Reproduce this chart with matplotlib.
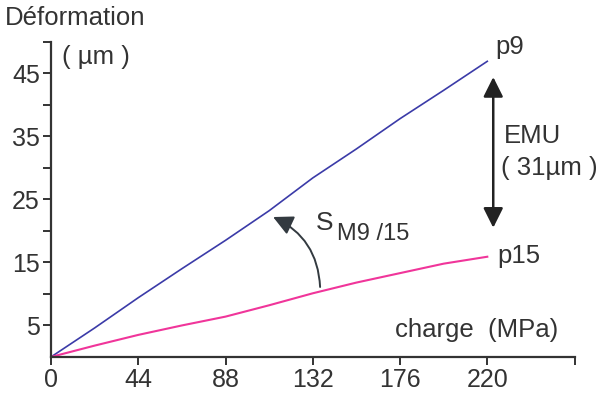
"""Deformation vs load for p9 / p15 with EMU annotation."""

import matplotlib
matplotlib.use("Agg")
import matplotlib.pyplot as plt
from matplotlib.patches import FancyArrowPatch

plt.rcParams["font.family"] = ["Liberation Sans", "DejaVu Sans"]

TEXT = "#333333"
FS = 18.5

# load (MPa) and deformation (um)
charge = [0, 22, 44, 66, 88, 110, 132, 154, 176, 198, 220]
p9 = [0, 4.6, 9.4, 14.0, 18.5, 23.2, 28.4, 33.0, 37.8, 42.3, 46.9]
p15 = [0, 1.8, 3.5, 5.0, 6.4, 8.2, 10.1, 11.8, 13.3, 14.8, 15.9]

x_major = [0, 44, 88, 132, 176, 220]
x_extra = [264]
y_major = [5, 15, 25, 35, 45]
y_minor = [10, 20, 30, 40, 50]

fig = plt.figure(figsize=(5.97, 3.94), dpi=100)
ax = fig.add_axes([0.0854, 0.094, 0.877, 0.80])

ax.plot(charge, p9, color="#3b3ba8", linewidth=1.2)
ax.plot(charge, p15, color="#f0359a", linewidth=1.5)

ax.set_xlim(0, 264)
ax.set_ylim(0, 50)
for side in ("top", "right"):
    ax.spines[side].set_visible(False)
for side in ("left", "bottom"):
    ax.spines[side].set_color(TEXT)
    ax.spines[side].set_linewidth(1.6)

ax.set_xticks(x_major + x_extra)
ax.set_xticklabels([str(v) for v in x_major] + [""])
ax.set_yticks(y_major)
ax.set_yticks(y_minor, minor=True)
ax.tick_params(axis="both", which="both", direction="out", length=6, width=1.4,
               color=TEXT, labelcolor=TEXT, labelsize=18)
ax.tick_params(axis="x", pad=2)
ax.tick_params(axis="y", pad=2)

# double arrow for EMU between the two curves at the end of the load
arrow = FancyArrowPatch((223, 20.5), (223, 44.4),
                        arrowstyle="<|-|>,head_length=0.6,head_width=0.3",
                        mutation_scale=20, shrinkA=0, shrinkB=0,
                        color="#222222", linewidth=1.8)
ax.add_patch(arrow)

# curved arrow for the slope ratio
curve = FancyArrowPatch((135.7, 11.1), (112, 22.2),
                        connectionstyle="arc3,rad=0.3",
                        arrowstyle="-|>,head_length=0.6,head_width=0.3",
                        mutation_scale=20, shrinkA=0, shrinkB=0,
                        color="#333a40", linewidth=1.4)
ax.add_patch(curve)

ax.text(224, 49.2, "p9", fontsize=FS, color=TEXT, va="center", ha="left")
ax.text(225, 16.0, "p15", fontsize=FS, color=TEXT, va="center", ha="left")
ax.text(228.5, 35.1, "EMU", fontsize=FS, color=TEXT, va="center", ha="left")
ax.text(227, 30.0, "( 31µm )", fontsize=FS, color=TEXT, va="center", ha="left")
ax.text(133.5, 21.3, "S", fontsize=19, color=TEXT, va="center", ha="left")
ax.text(144.3, 19.5, "M9 /15", fontsize=17, color=TEXT, va="center", ha="left")
ax.text(173.6, 4.3, "charge  (MPa)", fontsize=FS, color=TEXT, va="center", ha="left")

fig.text(5 / 597, 1 - 18 / 394, "Déformation", fontsize=FS, color=TEXT,
         va="center", ha="left")
fig.text(62 / 597, 1 - 57 / 394, "( µm )", fontsize=FS, color=TEXT,
         va="center", ha="left")

fig.savefig("out.png", dpi=100)
